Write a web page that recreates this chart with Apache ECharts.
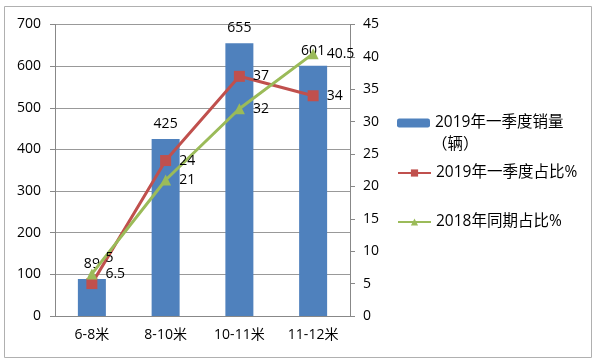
<!DOCTYPE html>
<html><head><meta charset="utf-8">
<script src="https://cdn.jsdelivr.net/npm/echarts@6/dist/echarts.min.js"></script>
<style>html,body{margin:0;padding:0;background:#fff}#c{width:600px;height:362px}</style>
</head><body><div id="c"></div>
<script>
var categories = ['6-8米', '8-10米', '10-11米', '11-12米'];
var sales2019 = [89, 425, 655, 601];
var share2019 = [5, 24, 37, 34];
var share2018 = [6.5, 21, 32, 40.5];
var leftTicks = {min: 0, max: 700, interval: 100};
var rightTicks = {min: 0, max: 45, interval: 5};
var names = ['2019年一季度销量', '2019年一季度占比%', '2018年同期占比%'];
var unitText = '（辆）';

var FONT = '"Open Sans","Noto Sans CJK SC",sans-serif';
var chart = echarts.init(document.getElementById('c'), null, {renderer: 'canvas'});
var redData = share2019.map(function (v, i) {
  return i === 0 ? {value: v, label: {position: 'right', offset: [0, -26]}} : v;
});
var legendTops = [123, 173, 222];
var legends = names.map(function (n, i) {
  return {
    orient: 'vertical', left: 397, top: legendTops[i] - 10, padding: 0,
    itemWidth: 33, itemHeight: 9, height: 20,
    textStyle: {fontSize: 15.5, color: '#000', fontFamily: FONT, lineHeight: 20},
    data: [n]
  };
});
var labelStyle = {fontSize: 14, color: '#000'};
chart.setOption({
  animation: false,
  textStyle: {fontFamily: FONT, color: '#000'},
  graphic: [{type: 'rect', shape: {x: 4.5, y: 6.5, width: 587, height: 351},
    style: {fill: 'none', stroke: '#b0b0b0', lineWidth: 1}},
    {type: 'text', left: 432, top: 137, style: {text: unitText, fontSize: 15.5, fontFamily: FONT, fill: '#000'}}],
  grid: {left: 55, right: 250, top: 24.5, bottom: 46},
  legend: legends,
  xAxis: {
    type: 'category', data: categories,
    axisLine: {lineStyle: {color: '#888'}},
    axisTick: {length: 5, lineStyle: {color: '#888'}},
    axisLabel: {fontSize: 14, color: '#000', margin: 12}
  },
  yAxis: [{
    type: 'value', min: leftTicks.min, max: leftTicks.max, interval: leftTicks.interval,
    axisLine: {show: true, lineStyle: {color: '#888'}},
    axisTick: {show: true, length: 5, lineStyle: {color: '#888'}},
    splitLine: {lineStyle: {color: '#999'}},
    axisLabel: {fontSize: 14, color: '#000', margin: 14}
  }, {
    type: 'value', min: rightTicks.min, max: rightTicks.max, interval: rightTicks.interval,
    position: 'right',
    axisLine: {show: true, lineStyle: {color: '#888'}},
    axisTick: {show: true, length: 5, lineStyle: {color: '#888'}},
    splitLine: {show: false},
    axisLabel: {fontSize: 14, color: '#000', margin: 13}
  }],
  series: [{
    name: names[0], type: 'bar', data: sales2019, barWidth: 28,
    itemStyle: {color: '#4F81BD'},
    label: Object.assign({show: true, position: 'top', distance: 8}, labelStyle)
  }, {
    name: names[1], type: 'line', yAxisIndex: 1, data: redData,
    symbol: 'rect', symbolSize: 11, lineStyle: {width: 3, color: '#C0504D'},
    itemStyle: {color: '#C0504D'},
    label: Object.assign({show: true, position: 'right', distance: 8}, labelStyle)
  }, {
    name: names[2], type: 'line', yAxisIndex: 1, data: share2018,
    symbol: 'triangle', symbolSize: 11, lineStyle: {width: 3, color: '#9BBB59'},
    itemStyle: {color: '#9BBB59'},
    label: Object.assign({show: true, position: 'right', distance: 8}, labelStyle)
  }]
});
</script></body></html>
